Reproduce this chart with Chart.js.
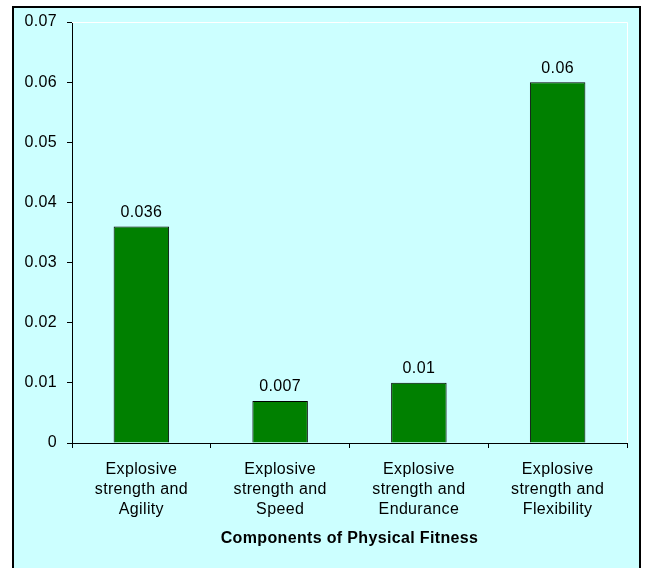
<!DOCTYPE html>
<html>
<head>
<meta charset="utf-8">
<title>Components of Physical Fitness</title>
<script src="https://cdn.jsdelivr.net/npm/chart.js@4.4.1/dist/chart.umd.min.js"></script>
<style>
  html, body { margin: 0; padding: 0; background: #ffffff; }
  canvas { display: block; }
</style>
</head>
<body>
<canvas id="chart" width="647" height="568"></canvas>
<script>
// Categories and values
const categories = [
  ['Explosive', 'strength and', 'Agility'],
  ['Explosive', 'strength and', 'Speed'],
  ['Explosive', 'strength and', 'Endurance'],
  ['Explosive', 'strength and', 'Flexibility']
];
const values = [0.036, 0.007, 0.01, 0.06];
const valueLabels = ['0.036', '0.007', '0.01', '0.06'];
const yTickLabels = ['0', '0.01', '0.02', '0.03', '0.04', '0.05', '0.06', '0.07'];
const xTitle = 'Components of Physical Fitness';

const FONT = '"Liberation Sans", Arial, sans-serif';
const BG = '#ccffff';
const SPACING = '0.35px';

// Frame and background behind the chart
const framePlugin = {
  id: 'frame',
  beforeDraw(chart) {
    const ctx = chart.ctx;
    ctx.letterSpacing = SPACING;
    ctx.save();
    ctx.fillStyle = '#ffffff';
    ctx.fillRect(0, 0, chart.width, chart.height);
    ctx.fillStyle = BG;
    ctx.fillRect(13, 7, 627, chart.height);
    ctx.strokeStyle = '#000000';
    ctx.lineWidth = 2;
    ctx.strokeRect(13, 7, 627, chart.height + 10);
    ctx.restore();
  },
  beforeDatasetsDraw(chart) {
    const a = chart.chartArea;
    const ctx = chart.ctx;
    ctx.save();
    ctx.strokeStyle = '#ffffff';
    ctx.lineWidth = 1;
    ctx.beginPath();
    ctx.moveTo(a.left, a.top + 0.5);
    ctx.lineTo(a.right + 0.5, a.top + 0.5);
    ctx.lineTo(a.right + 0.5, a.bottom);
    ctx.stroke();
    ctx.restore();
  }
};

// Value labels above each bar
const valueLabelPlugin = {
  id: 'valueLabels',
  afterDatasetsDraw(chart) {
    const ctx = chart.ctx;
    const meta = chart.getDatasetMeta(0);
    ctx.save();
    ctx.font = '16px ' + FONT;
    ctx.fillStyle = '#000000';
    ctx.textAlign = 'center';
    ctx.textBaseline = 'middle';
    meta.data.forEach((bar, i) => {
      ctx.fillText(valueLabels[i], bar.x, bar.y - 14);
    });
    ctx.restore();
  }
};

new Chart(document.getElementById('chart'), {
  type: 'bar',
  data: {
    labels: categories,
    datasets: [{
      data: values,
      backgroundColor: '#008000',
      borderColor: '#000000',
      borderWidth: 1,
      categoryPercentage: 1.0,
      barPercentage: 0.4
    }]
  },
  options: {
    responsive: false,
    animation: false,
    layout: { padding: { left: 0, top: 22, right: 20, bottom: 0 } },
    plugins: {
      legend: { display: false },
      tooltip: { enabled: false }
    },
    scales: {
      x: {
        offset: true,
        grid: {
          offset: true,
          drawOnChartArea: false,
          drawTicks: true,
          tickLength: 5,
          color: '#000000'
        },
        border: { display: true, color: '#000000', width: 1 },
        ticks: {
          color: '#000000',
          padding: 12,
          maxRotation: 0,
          autoSkip: false,
          font: { family: FONT, size: 16, lineHeight: 1.25 }
        },
        title: {
          display: true,
          text: xTitle,
          color: '#000000',
          font: { family: FONT, size: 16, weight: 'bold', lineHeight: 1.2 },
          padding: { top: 0, bottom: 20 }
        },
        afterFit(scale) { scale.height = 125; }
      },
      y: {
        min: 0,
        max: 0.07,
        grid: {
          drawOnChartArea: false,
          drawTicks: true,
          tickLength: 5,
          color: '#000000'
        },
        border: { display: true, color: '#000000', width: 1 },
        ticks: {
          stepSize: 0.01,
          color: '#000000',
          padding: 10,
          font: { family: FONT, size: 16 },
          callback: (v, i) => yTickLabels[i]
        },
        afterFit(scale) { scale.width = 72; }
      }
    }
  },
  plugins: [framePlugin, valueLabelPlugin]
});
</script>
</body>
</html>
